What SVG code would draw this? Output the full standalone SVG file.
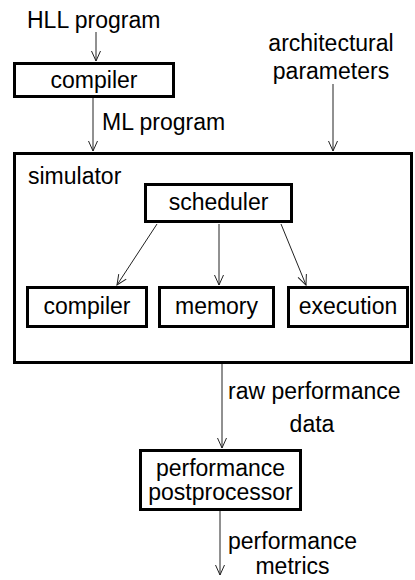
<svg xmlns="http://www.w3.org/2000/svg" width="415" height="580" viewBox="0 0 415 580">
<style>
text{font-family:"Liberation Sans",Arial,sans-serif;font-size:23px;fill:#000}
.box{fill:#fff;stroke:#000;stroke-width:3}
.c{text-anchor:middle}
.conn line{stroke:#222;stroke-width:1;fill:none}
</style>
<defs>
<marker id="ah" markerUnits="userSpaceOnUse" markerWidth="14" markerHeight="14" viewBox="-11 -7 14 14" refX="0" refY="0" orient="auto">
<path d="M-10,-4.5 L0,0 L-10,4.5" fill="none" stroke="#222" stroke-width="1"/>
</marker>
</defs>
<rect width="415" height="580" fill="#fff"/>
<g id="simulator">
<rect class="box" x="14.5" y="153.5" width="397" height="209"/>
<text x="28" y="184">simulator</text>
</g>
<g id="compiler-top">
<rect class="box" x="14.5" y="63.5" width="159" height="33"/>
<text class="c" x="94" y="88">compiler</text>
</g>
<g id="scheduler">
<rect class="box" x="145.5" y="184.5" width="146" height="37"/>
<text class="c" x="218.5" y="210">scheduler</text>
</g>
<g id="compiler-inner">
<rect class="box" x="27.5" y="287.5" width="119" height="39"/>
<text class="c" x="87" y="314">compiler</text>
</g>
<g id="memory">
<rect class="box" x="159.5" y="287.5" width="114" height="39"/>
<text class="c" x="216.5" y="314">memory</text>
</g>
<g id="execution">
<rect class="box" x="288.5" y="287.5" width="119" height="39"/>
<text class="c" x="348" y="314">execution</text>
</g>
<g id="postprocessor">
<rect class="box" x="140.5" y="450.5" width="160" height="59"/>
<text class="c" x="220.5" y="476">performance</text>
<text class="c" x="220.5" y="500">postprocessor</text>
</g>
<g id="labels">
<text x="27" y="28">HLL program</text>
<text x="102" y="130">ML program</text>
<text class="c" x="331" y="51">architectural</text>
<text class="c" x="331" y="79">parameters</text>
<text x="228" y="399">raw performance</text>
<text class="c" x="312" y="432">data</text>
<text x="228" y="549">performance</text>
<text class="c" x="292.5" y="574">metrics</text>
</g>
<g id="connectors" class="conn">
<line x1="96" y1="32" x2="96" y2="61" marker-end="url(#ah)"/>
<line x1="93" y1="98" x2="93" y2="151" marker-end="url(#ah)"/>
<line x1="333" y1="84" x2="333" y2="151" marker-end="url(#ah)"/>
<line x1="157" y1="224" x2="117" y2="285" marker-end="url(#ah)"/>
<line x1="219" y1="224" x2="219" y2="285" marker-end="url(#ah)"/>
<line x1="281" y1="224" x2="306" y2="285" marker-end="url(#ah)"/>
<line x1="222" y1="364" x2="222" y2="448" marker-end="url(#ah)"/>
<line x1="220" y1="511" x2="220" y2="575" marker-end="url(#ah)"/>
</g>
</svg>
